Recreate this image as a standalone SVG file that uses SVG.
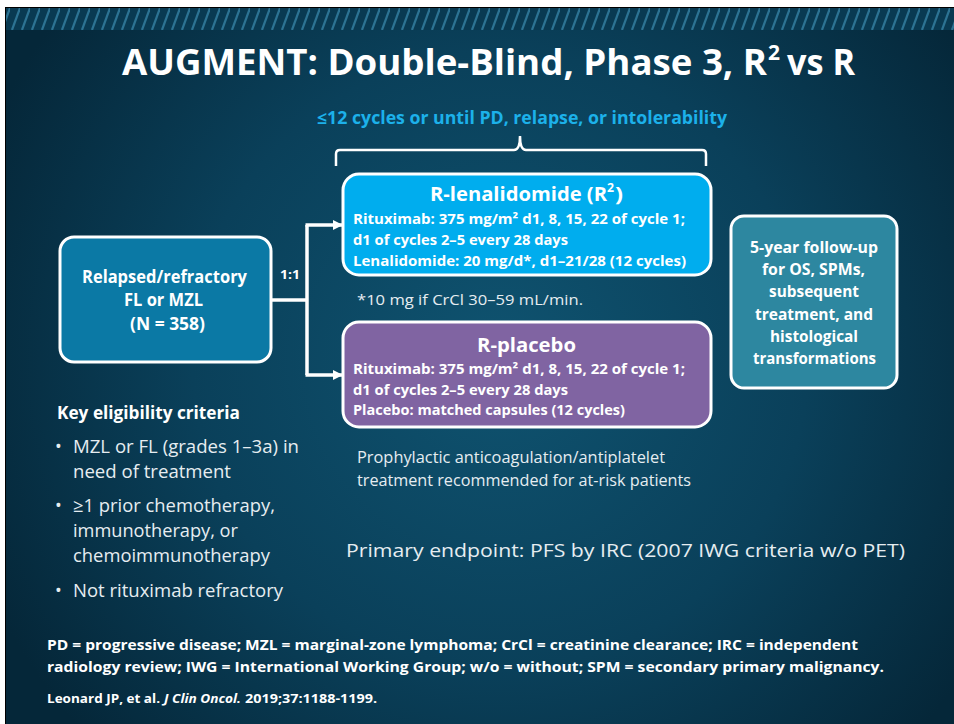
<svg xmlns="http://www.w3.org/2000/svg" width="954" height="724" viewBox="0 0 954 724">
  <defs>
    <radialGradient id="bg" cx="500" cy="360" r="560" gradientUnits="userSpaceOnUse">
      <stop offset="0" stop-color="#0f5370"/>
      <stop offset="0.55" stop-color="#0a405a"/>
      <stop offset="1" stop-color="#052739"/>
    </radialGradient>
    <pattern id="stripes" x="0" y="8" width="10" height="22" patternUnits="userSpaceOnUse">
      <rect width="10" height="22" fill="#093a52"/>
      <line x1="2" y1="22" x2="10" y2="0" stroke="#2c7393" stroke-width="2.2"/>
    </pattern>
    <marker id="arr" markerWidth="10" markerHeight="10" refX="9" refY="5" orient="auto" markerUnits="userSpaceOnUse">
      <path d="M0,0 L10,5 L0,10 Z" fill="#ffffff"/>
    </marker>
    <style>
      .b { font-family: "Open Sans", "Liberation Sans", sans-serif; font-weight: bold; fill: #ffffff; }
      .r { font-family: "Open Sans", "Liberation Sans", sans-serif; fill: #e6edf1; }
      .box { stroke: #ffffff; stroke-width: 3; }
      .conn { stroke: #ffffff; stroke-width: 3.5; fill: none; }
    </style>
  </defs>

  <rect x="0" y="0" width="954" height="724" fill="#ffffff"/>
  <rect x="5" y="7" width="949" height="717" fill="#000000"/>
  <rect x="6" y="8" width="948" height="716" fill="url(#bg)"/>
  <rect x="6" y="8" width="948" height="22" fill="url(#stripes)"/>

  <!-- Title -->
  <g id="title">
    <text class="b" x="122" y="75" font-size="36" textLength="645" lengthAdjust="spacingAndGlyphs">AUGMENT: Double-Blind, Phase 3, R</text>
    <text class="b" x="768" y="60" font-size="22" textLength="12" lengthAdjust="spacingAndGlyphs">2</text>
    <text class="b" x="787" y="75" font-size="36" textLength="68" lengthAdjust="spacingAndGlyphs">vs R</text>
  </g>

  <g id="duration">
    <text class="b" x="317" y="124" font-size="17" fill="#1cb1ea" style="fill:#1cb1ea" textLength="410" lengthAdjust="spacingAndGlyphs">≤12 cycles or until PD, relapse, or intolerability</text>
    <path d="M336,166 L336,154 Q336,150 340,150 L514,150 Q520,150 520,136 Q520,150 526,150 L702,150 Q706,150 706,154 L706,166" fill="none" stroke="#ffffff" stroke-width="2.5"/>
  </g>

  <!-- Connectors -->
  <g id="connectors">
    <path class="conn" d="M271,300 L307,300"/>
    <path class="conn" d="M307,225 L307,375"/>
    <path class="conn" d="M305.5,225 L342,225" marker-end="url(#arr)"/>
    <path class="conn" d="M305.5,375 L342,375" marker-end="url(#arr)"/>
    <text class="b" x="280" y="279" font-size="12" textLength="20" lengthAdjust="spacingAndGlyphs">1:1</text>
  </g>

  <g id="population">
    <rect class="box" x="60" y="237" width="211" height="125" rx="14" fill="#0b79a5"/>
    <text class="b" x="82" y="283" font-size="17" textLength="165" lengthAdjust="spacingAndGlyphs">Relapsed/refractory</text>
    <text class="b" x="124" y="306" font-size="17" textLength="79" lengthAdjust="spacingAndGlyphs">FL or MZL</text>
    <text class="b" x="130" y="330" font-size="17" textLength="75" lengthAdjust="spacingAndGlyphs">(N = 358)</text>
  </g>

  <g id="r2">
    <rect class="box" x="343" y="174" width="368" height="101" rx="16" fill="#00adee"/>
    <text class="b" x="430" y="201" font-size="20" textLength="177" lengthAdjust="spacingAndGlyphs">R-lenalidomide (R</text>
    <text class="b" x="607" y="192" font-size="12" textLength="7" lengthAdjust="spacingAndGlyphs">2</text>
    <text class="b" x="615" y="201" font-size="20" textLength="8" lengthAdjust="spacingAndGlyphs">)</text>
    <text class="b" x="353" y="224" font-size="14" textLength="332" lengthAdjust="spacingAndGlyphs">Rituximab: 375 mg/m² d1, 8, 15, 22 of cycle 1;</text>
    <text class="b" x="353" y="245" font-size="14" textLength="215" lengthAdjust="spacingAndGlyphs">d1 of cycles 2–5 every 28 days</text>
    <text class="b" x="353" y="266" font-size="14" textLength="333" lengthAdjust="spacingAndGlyphs">Lenalidomide: 20 mg/d*, d1–21/28 (12 cycles)</text>
  </g>

  <text class="r" x="357" y="305" font-size="14" textLength="226" lengthAdjust="spacingAndGlyphs">*10 mg if CrCl 30–59 mL/min.</text>

  <g id="rplacebo">
    <rect class="box" x="343" y="322" width="368" height="105" rx="16" fill="#8064a2"/>
    <text class="b" x="477" y="352" font-size="20" textLength="99" lengthAdjust="spacingAndGlyphs">R-placebo</text>
    <text class="b" x="353" y="374" font-size="14" textLength="332" lengthAdjust="spacingAndGlyphs">Rituximab: 375 mg/m² d1, 8, 15, 22 of cycle 1;</text>
    <text class="b" x="353" y="395" font-size="14" textLength="215" lengthAdjust="spacingAndGlyphs">d1 of cycles 2–5 every 28 days</text>
    <text class="b" x="353" y="415" font-size="14" textLength="272" lengthAdjust="spacingAndGlyphs">Placebo: matched capsules (12 cycles)</text>
  </g>

  <g id="prophylaxis">
    <text class="r" x="357" y="463" font-size="16" textLength="308" lengthAdjust="spacingAndGlyphs">Prophylactic anticoagulation/antiplatelet</text>
    <text class="r" x="357" y="486" font-size="16" textLength="334" lengthAdjust="spacingAndGlyphs">treatment recommended for at-risk patients</text>
  </g>

  <g id="followup">
    <rect class="box" x="731" y="216" width="166" height="172" rx="13" fill="#2d87a0"/>
    <text class="b" x="750" y="253" font-size="16" textLength="128" lengthAdjust="spacingAndGlyphs">5-year follow-up</text>
    <text class="b" x="762" y="275" font-size="16" textLength="103" lengthAdjust="spacingAndGlyphs">for OS, SPMs,</text>
    <text class="b" x="769" y="297" font-size="16" textLength="90" lengthAdjust="spacingAndGlyphs">subsequent</text>
    <text class="b" x="755" y="320" font-size="16" textLength="118" lengthAdjust="spacingAndGlyphs">treatment, and</text>
    <text class="b" x="770" y="342" font-size="16" textLength="88" lengthAdjust="spacingAndGlyphs">histological</text>
    <text class="b" x="753" y="364" font-size="16" textLength="123" lengthAdjust="spacingAndGlyphs">transformations</text>
  </g>

  <g id="eligibility">
    <text class="b" x="57" y="419" font-size="17" textLength="183" lengthAdjust="spacingAndGlyphs">Key eligibility criteria</text>
    <text class="r" x="55" y="453" font-size="18">•</text>
    <text class="r" x="73" y="453" font-size="18" textLength="226" lengthAdjust="spacingAndGlyphs">MZL or FL (grades 1–3a) in</text>
    <text class="r" x="73" y="478" font-size="18" textLength="158" lengthAdjust="spacingAndGlyphs">need of treatment</text>
    <text class="r" x="55" y="512" font-size="18">•</text>
    <text class="r" x="73" y="512" font-size="18" textLength="202" lengthAdjust="spacingAndGlyphs">≥1 prior chemotherapy,</text>
    <text class="r" x="73" y="537" font-size="18" textLength="165" lengthAdjust="spacingAndGlyphs">immunotherapy, or</text>
    <text class="r" x="73" y="562" font-size="18" textLength="197" lengthAdjust="spacingAndGlyphs">chemoimmunotherapy</text>
    <text class="r" x="55" y="597" font-size="18">•</text>
    <text class="r" x="73" y="597" font-size="18" textLength="210" lengthAdjust="spacingAndGlyphs">Not rituximab refractory</text>
  </g>

  <text class="r" x="346" y="557" font-size="19" textLength="559" lengthAdjust="spacingAndGlyphs">Primary endpoint: PFS by IRC (2007 IWG criteria w/o PET)</text>

  <g id="footer">
    <text class="b" x="47" y="650" font-size="14" textLength="811" lengthAdjust="spacingAndGlyphs">PD = progressive disease; MZL = marginal-zone lymphoma; CrCl = creatinine clearance; IRC = independent</text>
    <text class="b" x="47" y="672" font-size="14" textLength="837" lengthAdjust="spacingAndGlyphs">radiology review; IWG = International Working Group; w/o = without; SPM = secondary primary malignancy.</text>
    <text class="b" x="47" y="703" font-size="12" textLength="113" lengthAdjust="spacingAndGlyphs">Leonard JP, et al.</text>
    <text class="b" x="164" y="703" font-size="12" font-style="italic" textLength="77" lengthAdjust="spacingAndGlyphs">J Clin Oncol.</text>
    <text class="b" x="245" y="703" font-size="12" textLength="132" lengthAdjust="spacingAndGlyphs">2019;37:1188-1199.</text>
  </g>
</svg>
